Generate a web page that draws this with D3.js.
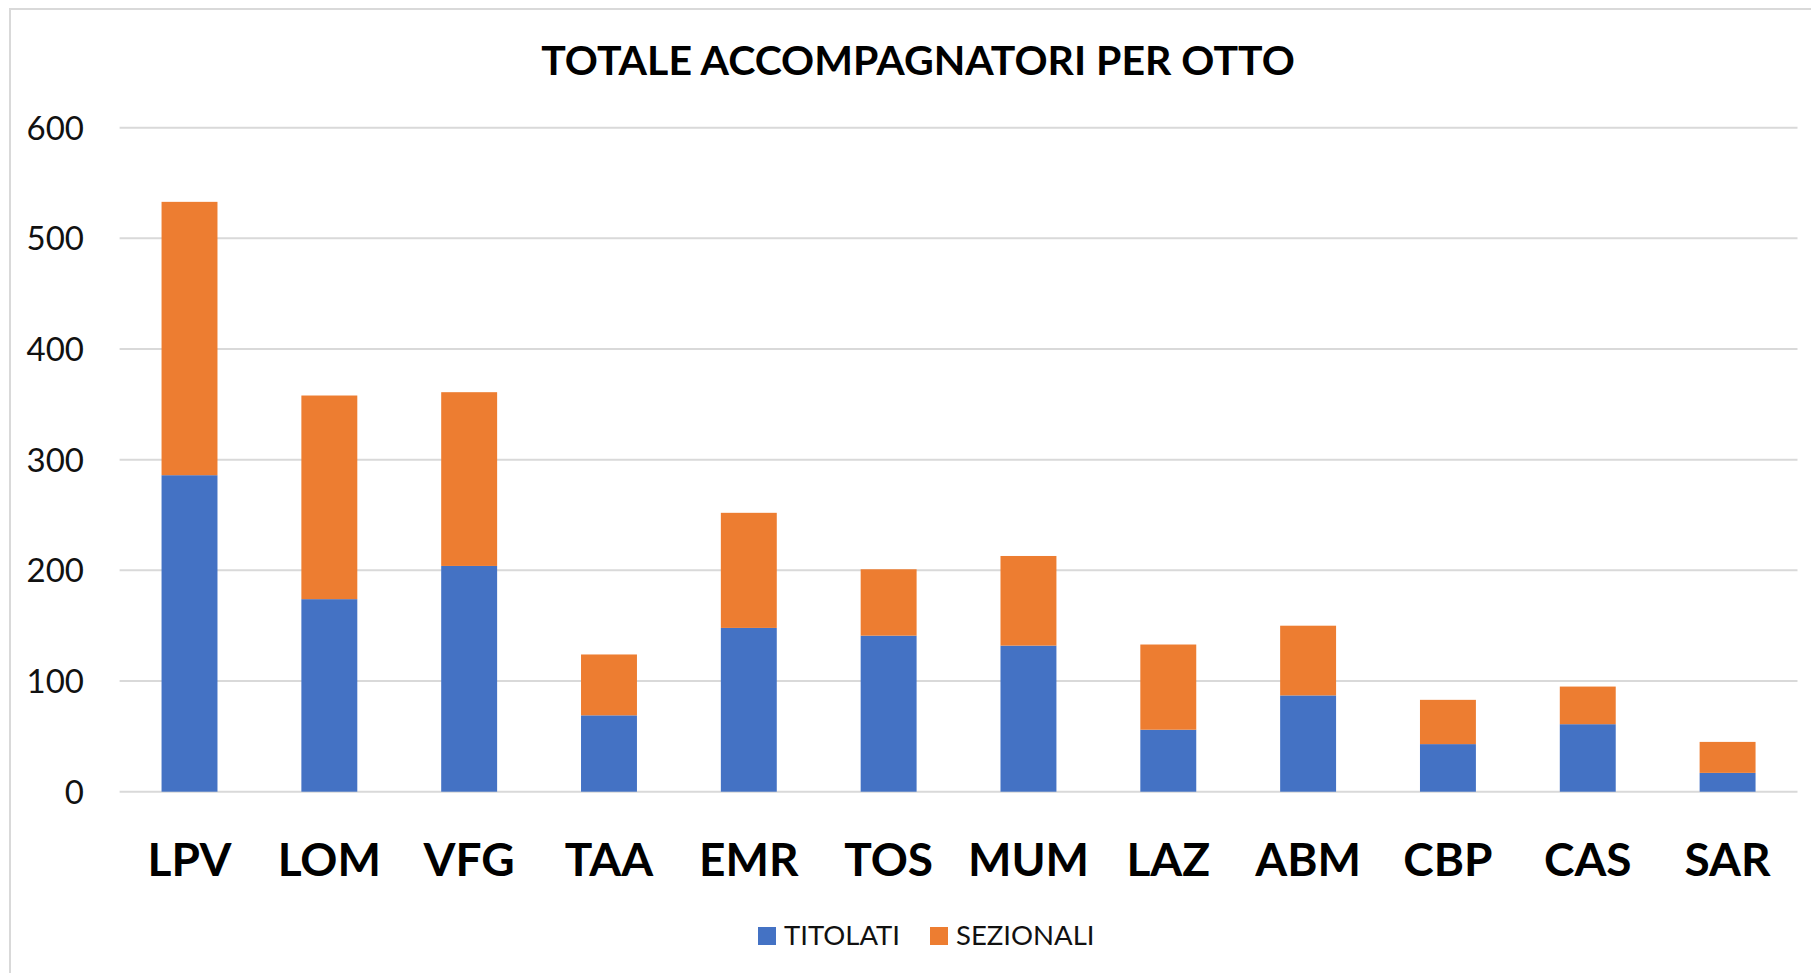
<!DOCTYPE html>
<html lang="it">
<head>
  <meta charset="UTF-8">
  <title>Totale accompagnatori per OTTO</title>
  <script src="https://d3js.org/d3.v7.min.js"></script>
  <style>
    html, body { margin: 0; padding: 0; background: #fff; }
    svg { display: block; font-family: Lato, "Open Sans", sans-serif; }
    .grid line { stroke: #d9d9d9; stroke-width: 2px; }
    .y-axis text { font-size: 33px; fill: #111; }
    .x-axis text { font-size: 46px; font-weight: 700; fill: #000; }
    .legend text { font-size: 27.5px; fill: #111; }
  </style>
</head>
<body>
  <div id="chart"></div>
  <script>
    // ---------------- data ----------------
    const regions = ["LPV", "LOM", "VFG", "TAA", "EMR", "TOS", "MUM", "LAZ", "ABM", "CBP", "CAS", "SAR"];
    const titolati = [286, 174, 204, 69, 148, 141, 132, 56, 87, 43, 61, 17];
    const sezionali = [247, 184, 157, 55, 104, 60, 81, 77, 63, 40, 34, 28];
    const seriesNames = ["TITOLATI", "SEZIONALI"];
    const yTicks = [0, 100, 200, 300, 400, 500, 600];

    // ---------------- setup ----------------
    const W = 1811, H = 973;
    const plot = { left: 119.6, right: 1797.5, top: 127.7, bottom: 791.7 };
    const colors = { TITOLATI: "#4472C4", SEZIONALI: "#ED7D31" };

    const svg = d3.select("#chart").append("svg")
      .attr("width", W)
      .attr("height", H);

    // chart frame (only top and left edges are inside the picture)
    svg.append("rect")
      .attr("x", 10).attr("y", 9)
      .attr("width", W + 20).attr("height", H + 20)
      .attr("fill", "none")
      .attr("stroke", "#d9d9d9")
      .attr("stroke-width", 2);

    const rows = regions.map((r, i) => ({ region: r, TITOLATI: titolati[i], SEZIONALI: sezionali[i] }));
    const stacked = d3.stack().keys(seriesNames)(rows);

    const x = d3.scaleBand()
      .domain(regions)
      .range([plot.left, plot.right])
      .paddingInner(0.6)
      .paddingOuter(0.3);

    const y = d3.scaleLinear()
      .domain([0, 600])
      .range([plot.bottom, plot.top]);

    // ---------------- gridlines & y labels ----------------
    const grid = svg.append("g").attr("class", "grid");
    grid.selectAll("line")
      .data(yTicks)
      .enter().append("line")
      .attr("x1", plot.left).attr("x2", plot.right)
      .attr("y1", d => y(d)).attr("y2", d => y(d));

    svg.append("g")
      .attr("class", "y-axis")
      .selectAll("text")
      .data(yTicks)
      .enter().append("text")
      .attr("x", 84)
      .attr("y", d => y(d))
      .attr("dy", "0.36em")
      .attr("text-anchor", "end")
      .text(d => d);

    // ---------------- bars ----------------
    svg.append("g")
      .selectAll("g")
      .data(stacked)
      .enter().append("g")
      .attr("fill", d => colors[d.key])
      .selectAll("rect")
      .data(d => d)
      .enter().append("rect")
      .attr("x", d => x(d.data.region))
      .attr("y", d => y(d[1]))
      .attr("width", x.bandwidth())
      .attr("height", d => y(d[0]) - y(d[1]));

    // ---------------- x labels ----------------
    svg.append("g")
      .attr("class", "x-axis")
      .selectAll("text")
      .data(regions)
      .enter().append("text")
      .attr("x", d => x(d) + x.bandwidth() / 2)
      .attr("y", 876)
      .attr("text-anchor", "middle")
      .text(d => d);

    // ---------------- title ----------------
    svg.append("text")
      .attr("x", 918)
      .attr("y", 75)
      .attr("text-anchor", "middle")
      .style("font-size", "41px")
      .style("font-weight", 700)
      .style("fill", "#000")
      .text("TOTALE ACCOMPAGNATORI PER OTTO");

    // ---------------- legend ----------------
    const legendX = [758, 930];
    const legend = svg.append("g").attr("class", "legend")
      .selectAll("g")
      .data(seriesNames)
      .enter().append("g")
      .attr("transform", (d, i) => `translate(${legendX[i]},927)`);

    legend.append("rect")
      .attr("width", 18).attr("height", 18)
      .attr("fill", d => colors[d]);

    legend.append("text")
      .attr("x", 26)
      .attr("y", 18)
      .text(d => d);
  </script>
</body>
</html>
